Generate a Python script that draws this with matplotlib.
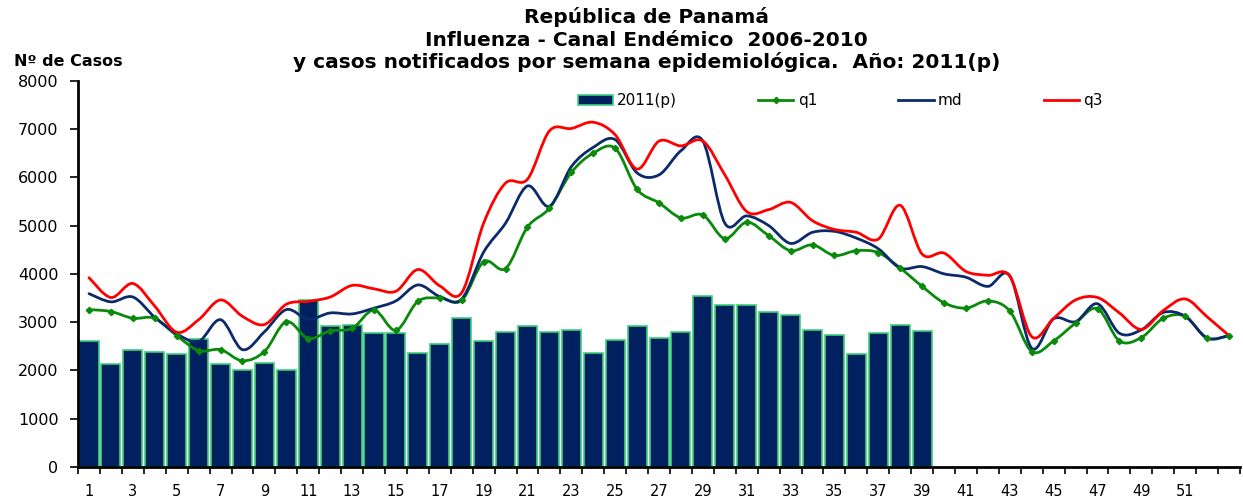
import numpy as np
import matplotlib
matplotlib.use('Agg')
import matplotlib.pyplot as plt
from matplotlib.path import Path
from matplotlib.patches import PathPatch, Patch
from matplotlib.lines import Line2D

plt.rcParams['font.family'] = ['DejaVu Sans']

# semana epidemiologica 1..53
semanas = list(range(1, 54))

# casos 2011 (p), semanas 1..39
casos_2011 = [2610, 2130, 2420, 2390, 2350, 2650, 2130, 2010, 2150, 2010,
              3450, 2920, 2950, 2780, 2780, 2370, 2550, 3080, 2610, 2800,
              2920, 2800, 2840, 2370, 2630, 2920, 2670, 2800, 3550, 3350,
              3350, 3210, 3140, 2840, 2730, 2350, 2770, 2940, 2820]

q1 = [3260, 3220, 3080, 3080, 2720, 2410, 2430, 2200, 2390, 3010,
      2660, 2820, 2870, 3250, 2830, 3430, 3500, 3450, 4250, 4110,
      4970, 5360, 6100, 6500, 6600, 5750, 5470, 5160, 5220, 4730,
      5070, 4790, 4480, 4600, 4380, 4480, 4440, 4120, 3740, 3400,
      3290, 3440, 3230, 2390, 2610, 2980, 3280, 2610, 2680, 3080,
      3120, 2670, 2720]

md = [3590, 3420, 3520, 3100, 2760, 2600, 3050, 2430, 2800, 3260,
      3060, 3190, 3170, 3290, 3440, 3770, 3530, 3480, 4450, 5050,
      5820, 5400, 6220, 6620, 6780, 6090, 6050, 6550, 6750, 5050,
      5200, 5000, 4630, 4860, 4880, 4740, 4520, 4120, 4150, 4000,
      3930, 3740, 3960, 2460, 3070, 3010, 3380, 2770, 2840, 3200,
      3120, 2670, 2720]

q3 = [3920, 3510, 3800, 3330, 2790, 3050, 3460, 3120, 2950, 3370,
      3430, 3520, 3760, 3690, 3640, 4090, 3750, 3610, 5050, 5880,
      5960, 6960, 7010, 7140, 6880, 6170, 6750, 6650, 6750, 6050,
      5290, 5330, 5480, 5100, 4920, 4860, 4720, 5420, 4410, 4430,
      4050, 3970, 3950, 2700, 3080, 3460, 3510, 3190, 2850, 3240,
      3480, 3110, 2720]

y_ticks = list(range(0, 8001, 1000))
x_labels = list(range(1, 52, 2))

BAR_FILL = '#002060'
BAR_EDGE = '#3ccf7a'
C_Q1 = '#0a8a0a'
C_MD = '#0b2a6b'
C_Q3 = '#ff0000'


def smooth_path(x, y):
    # bezier like Excel's smoothed line
    x = np.asarray(x, float)
    y = np.asarray(y, float)
    n = len(x)
    verts = [(x[0], y[0])]
    codes = [Path.MOVETO]
    for i in range(n - 1):
        p0 = (x[i - 1], y[i - 1]) if i > 0 else (x[i], y[i])
        p1 = (x[i], y[i])
        p2 = (x[i + 1], y[i + 1])
        p3 = (x[i + 2], y[i + 2]) if i + 2 < n else p2
        c1 = (p1[0] + (p2[0] - p0[0]) / 6, p1[1] + (p2[1] - p0[1]) / 6)
        c2 = (p2[0] - (p3[0] - p1[0]) / 6, p2[1] - (p3[1] - p1[1]) / 6)
        verts += [c1, c2, p2]
        codes += [Path.CURVE4] * 3
    return Path(verts, codes)


fig = plt.figure(figsize=(12.43, 4.97), dpi=100)
ax = fig.add_axes([0.0628, 0.0604, 0.9348, 0.7772])

ax.bar(semanas[:len(casos_2011)], casos_2011, width=0.87, color=BAR_FILL,
       edgecolor=BAR_EDGE, linewidth=1.2, zorder=2)

for vals, col in [(q1, C_Q1), (md, C_MD), (q3, C_Q3)]:
    ax.add_patch(PathPatch(smooth_path(semanas, vals), facecolor='none',
                           edgecolor=col, linewidth=2, zorder=3,
                           capstyle='round', joinstyle='round'))
ax.plot(semanas, q1, linestyle='none', marker='D', markersize=3.2,
        color=C_Q1, zorder=4)

ax.set_xlim(0.5, 53.5)
ax.set_ylim(0, 8000)
ax.set_yticks(y_ticks)
ax.set_yticklabels([str(v) for v in y_ticks], fontsize=11.5)
ax.set_xticks(x_labels)
ax.set_xticklabels([str(v) for v in x_labels], fontsize=10.5)
ax.set_xticks(np.arange(0.5, 54, 1), minor=True)
ax.tick_params(axis='x', which='major', length=0, pad=12)
ax.tick_params(axis='x', which='minor', length=5, width=1.2, direction='out')
ax.tick_params(axis='y', length=6, width=1.2, pad=8)

for s in ['top', 'right']:
    ax.spines[s].set_visible(False)
ax.spines['left'].set_linewidth(2)
ax.spines['bottom'].set_linewidth(2)

handles = [Patch(facecolor=BAR_FILL, edgecolor=BAR_EDGE, linewidth=1.2),
           Line2D([], [], color=C_Q1, lw=2, marker='D', markersize=3.2),
           Line2D([], [], color=C_MD, lw=2),
           Line2D([], [], color=C_Q3, lw=2)]
fig.legend(handles, ['2011(p)', 'q1', 'md', 'q3'], ncol=4, frameon=False,
           loc='center', bbox_to_anchor=(0.676, 0.797), fontsize=11,
           handlelength=2.3, handletextpad=0.3, columnspacing=5.3)

title_kw = dict(ha='center', va='center', fontsize=14.5, fontweight='bold')
fig.text(0.52, 1 - 17 / 497, 'República de Panamá', **title_kw)
fig.text(0.52, 1 - 40 / 497, 'Influenza - Canal Endémico  2006-2010',
         **title_kw)
fig.text(0.52, 1 - 62 / 497,
         'y casos notificados por semana epidemiológica.  Año: 2011(p)',
         **title_kw)
fig.text(0.011, 1 - 61 / 497, 'Nº de Casos', ha='left', va='center',
         fontsize=11.5, fontweight='bold')

fig.savefig('out.png', dpi=100)
